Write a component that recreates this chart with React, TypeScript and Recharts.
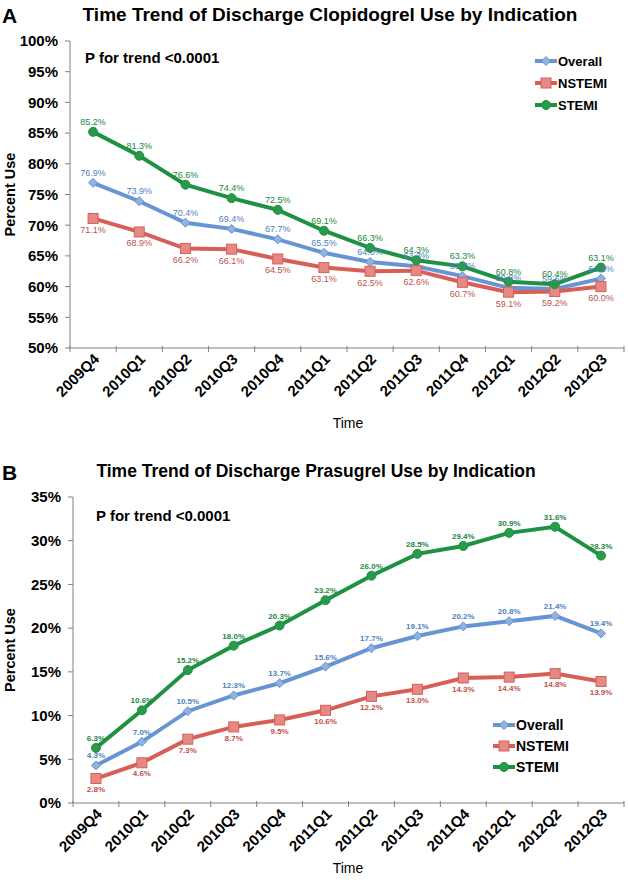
import React from 'react';
import { LineChart, Line, XAxis, YAxis, LabelList } from 'recharts';

const quarters = ['2009Q4', '2010Q1', '2010Q2', '2010Q3', '2010Q4', '2011Q1', '2011Q2', '2011Q3', '2011Q4', '2012Q1', '2012Q2', '2012Q3'];

// panel A - clopidogrel
const clopOverall = [76.9, 73.9, 70.4, 69.4, 67.7, 65.5, 64.0, 63.3, 61.7, 59.8, 59.6, 61.3];
const clopNstemi = [71.1, 68.9, 66.2, 66.1, 64.5, 63.1, 62.5, 62.6, 60.7, 59.1, 59.2, 60.0];
const clopStemi = [85.2, 81.3, 76.6, 74.4, 72.5, 69.1, 66.3, 64.3, 63.3, 60.8, 60.4, 63.1];
const clopTicks = [50, 55, 60, 65, 70, 75, 80, 85, 90, 95, 100];

// panel B - prasugrel
const prasOverall = [4.3, 7.0, 10.5, 12.3, 13.7, 15.6, 17.7, 19.1, 20.2, 20.8, 21.4, 19.4];
const prasNstemi = [2.8, 4.6, 7.3, 8.7, 9.5, 10.6, 12.2, 13.0, 14.3, 14.4, 14.8, 13.9];
const prasStemi = [6.3, 10.6, 15.2, 18.0, 20.3, 23.2, 26.0, 28.5, 29.4, 30.9, 31.6, 28.3];
const prasTicks = [0, 5, 10, 15, 20, 25, 30, 35];

const FONT = '"Liberation Sans", Arial, sans-serif';

const COLORS = {
  overall: '#6795d3',
  nstemi: '#d75f5a',
  stemi: '#1f9142',
};
const LABEL_COLORS = {
  overall: '#4f7fc0',
  nstemi: '#c0504d',
  stemi: '#23863e',
};
const MARKER_FILL = { overall: '#8fb2e0', nstemi: '#e58984', stemi: '#2a9a4a' };

const clopData = quarters.map((q, i) => ({ q, overall: clopOverall[i], nstemi: clopNstemi[i], stemi: clopStemi[i] }));
const prasData = quarters.map((q, i) => ({ q, overall: prasOverall[i], nstemi: prasNstemi[i], stemi: prasStemi[i] }));

const Marker = ({ cx, cy, kind, fill, stroke }: any) => {
  if (cx == null || cy == null) return null;
  if (kind === 'overall') {
    const s = 4.5;
    return <polygon points={`${cx},${cy - s} ${cx + s},${cy} ${cx},${cy + s} ${cx - s},${cy}`} fill={fill} stroke={stroke} strokeWidth={1} />;
  }
  if (kind === 'nstemi') {
    return <rect x={cx - 5} y={cy - 5} width={10} height={10} fill={fill} stroke={stroke} strokeWidth={1} />;
  }
  return <circle cx={cx} cy={cy} r={4.5} fill={fill} stroke={stroke} strokeWidth={1} />;
};

const makeXTick = (band: number) => (props: any) => {
  const { x, y, payload, index, visibleTicksCount } = props;
  const axisY = y - 2;
  const last = index === visibleTicksCount - 1;
  return (
    <g>
      <line x1={x - band / 2} x2={x - band / 2} y1={axisY - 2} y2={axisY + 4} stroke="#808080" />
      {last && <line x1={x + band / 2} x2={x + band / 2} y1={axisY - 2} y2={axisY + 4} stroke="#808080" />}
      <text
        transform={`translate(${x + 7},${axisY + 12}) rotate(-45)`}
        textAnchor="end"
        fontFamily={FONT}
        fontWeight="bold"
        fontSize={15}
        fill="#000"
      >
        {payload.value}
      </text>
    </g>
  );
};

const legendItems = [
  { key: 'overall', name: 'Overall' },
  { key: 'nstemi', name: 'NSTEMI' },
  { key: 'stemi', name: 'STEMI' },
];

const LegendBox = ({ left, top, fontSize, gap }: { left: number; top: number; fontSize: number; gap: number }) => (
  <div style={{ position: 'absolute', left, top, fontFamily: FONT, fontWeight: 'bold', fontSize, color: '#000' }}>
    {legendItems.map((it) => (
      <div key={it.key} style={{ display: 'flex', alignItems: 'center', height: gap }}>
        <svg width={22} height={12} style={{ marginRight: 1 }}>
          <line x1={0} x2={22} y1={6} y2={6} stroke={(COLORS as any)[it.key]} strokeWidth={4} />
          <Marker cx={11} cy={6} kind={it.key} fill={(MARKER_FILL as any)[it.key]} stroke={(COLORS as any)[it.key]} />
        </svg>
        <span>{it.name}</span>
      </div>
    ))}
  </div>
);

const pct = (v: number) => `${v.toFixed(1)}%`;

interface PanelProps {
  data: any[];
  ticks: number[];
  domain: [number, number];
  height: number;
  marginTop: number;
  marginBottom: number;
  axisWidth: number;
  labelSize: number;
  labelWeight: string;
}

const Panel = ({ data, ticks, domain, height, marginTop, marginBottom, axisWidth, labelSize, labelWeight }: PanelProps) => {
  const plotWidth = 628 - 4 - axisWidth;
  const band = plotWidth / quarters.length;
  const series = [
    { key: 'overall', name: 'Overall', pos: 'top' as const },
    { key: 'nstemi', name: 'NSTEMI', pos: 'bottom' as const },
    { key: 'stemi', name: 'STEMI', pos: 'top' as const },
  ];
  return (
    <LineChart width={628} height={height} data={data} margin={{ top: marginTop, right: 4, bottom: marginBottom, left: 0 }}>
      <XAxis
        dataKey="q"
        interval={0}
        padding={{ left: band / 2, right: band / 2 }}
        tickSize={0}
        tick={makeXTick(band)}
        height={60}
        stroke="#808080"
      />
      <YAxis
        type="number"
        domain={domain}
        ticks={ticks}
        width={axisWidth}
        tickFormatter={(v) => `${v}%`}
        tickSize={5}
        tickMargin={7}
        stroke="#808080"
        tick={{ fill: '#000', fontFamily: FONT, fontWeight: 'bold', fontSize: 15 }}
        label={{
          value: 'Percent Use',
          angle: -90,
          position: 'insideLeft',
          offset: 10,
          style: { textAnchor: 'middle', fill: '#000', fontFamily: FONT, fontWeight: 'bold', fontSize: 14.5 },
        }}
      />
      {series.map((s) => (
        <Line
          key={s.key}
          dataKey={s.key}
          name={s.name}
          stroke={(COLORS as any)[s.key]}
          strokeWidth={4}
          isAnimationActive={false}
          dot={(p: any) => <Marker key={`${s.key}-${p.index}`} cx={p.cx} cy={p.cy} kind={s.key} fill={(MARKER_FILL as any)[s.key]} stroke={(COLORS as any)[s.key]} />}
          activeDot={false}
        >
          <LabelList
            dataKey={s.key}
            position={s.pos}
            offset={s.pos === 'top' ? 7 : 8}
            formatter={(v: any) => pct(v)}
            style={{ fill: (LABEL_COLORS as any)[s.key], fontFamily: FONT, fontSize: labelSize, fontWeight: labelWeight }}
          />
        </Line>
      ))}
    </LineChart>
  );
};

const abs = (left: number, top: number, extra: React.CSSProperties = {}): React.CSSProperties => ({
  position: 'absolute',
  left,
  top,
  fontFamily: FONT,
  fontWeight: 'bold',
  color: '#000',
  whiteSpace: 'nowrap',
  lineHeight: 1,
  ...extra,
});

export default function App() {
  return (
    <div style={{ position: 'absolute', left: 0, top: 0, width: 628, height: 883, background: '#fff', overflow: 'hidden' }}>
      {/* panel A */}
      <div style={{ position: 'absolute', left: 0, top: 0 }}>
        <Panel
          data={clopData}
          ticks={clopTicks}
          domain={[50, 100]}
          height={440}
          marginTop={41}
          marginBottom={32}
          axisWidth={70}
          labelSize={9}
          labelWeight="normal"
        />
      </div>
      <LegendBox left={535} top={50} fontSize={13} gap={22} />
      <div style={abs(2, 5, { fontSize: 21 })}>A</div>
      <div style={abs(0, 5, { fontSize: 19, width: 660, textAlign: 'center' })}>Time Trend of Discharge Clopidogrel Use by Indication</div>
      <div style={abs(85, 50, { fontSize: 15 })}>P for trend &lt;0.0001</div>
      <div style={abs(0, 416, { fontSize: 14, width: 696, textAlign: 'center', fontWeight: 'normal' })}>Time</div>

      {/* panel B */}
      <div style={{ position: 'absolute', left: 0, top: 440 }}>
        <Panel
          data={prasData}
          ticks={prasTicks}
          domain={[0, 35]}
          height={443}
          marginTop={57}
          marginBottom={20}
          axisWidth={73}
          labelSize={8}
          labelWeight="bold"
        />
      </div>
      <LegendBox left={493} top={714} fontSize={14} gap={21} />
      <div style={abs(2, 462, { fontSize: 21 })}>B</div>
      <div style={abs(0, 463, { fontSize: 17.5, width: 632, textAlign: 'center' })}>Time Trend of Discharge Prasugrel Use by Indication</div>
      <div style={abs(96, 508, { fontSize: 15 })}>P for trend &lt;0.0001</div>
      <div style={abs(0, 861, { fontSize: 14, width: 696, textAlign: 'center', fontWeight: 'normal' })}>Time</div>
    </div>
  );
}
